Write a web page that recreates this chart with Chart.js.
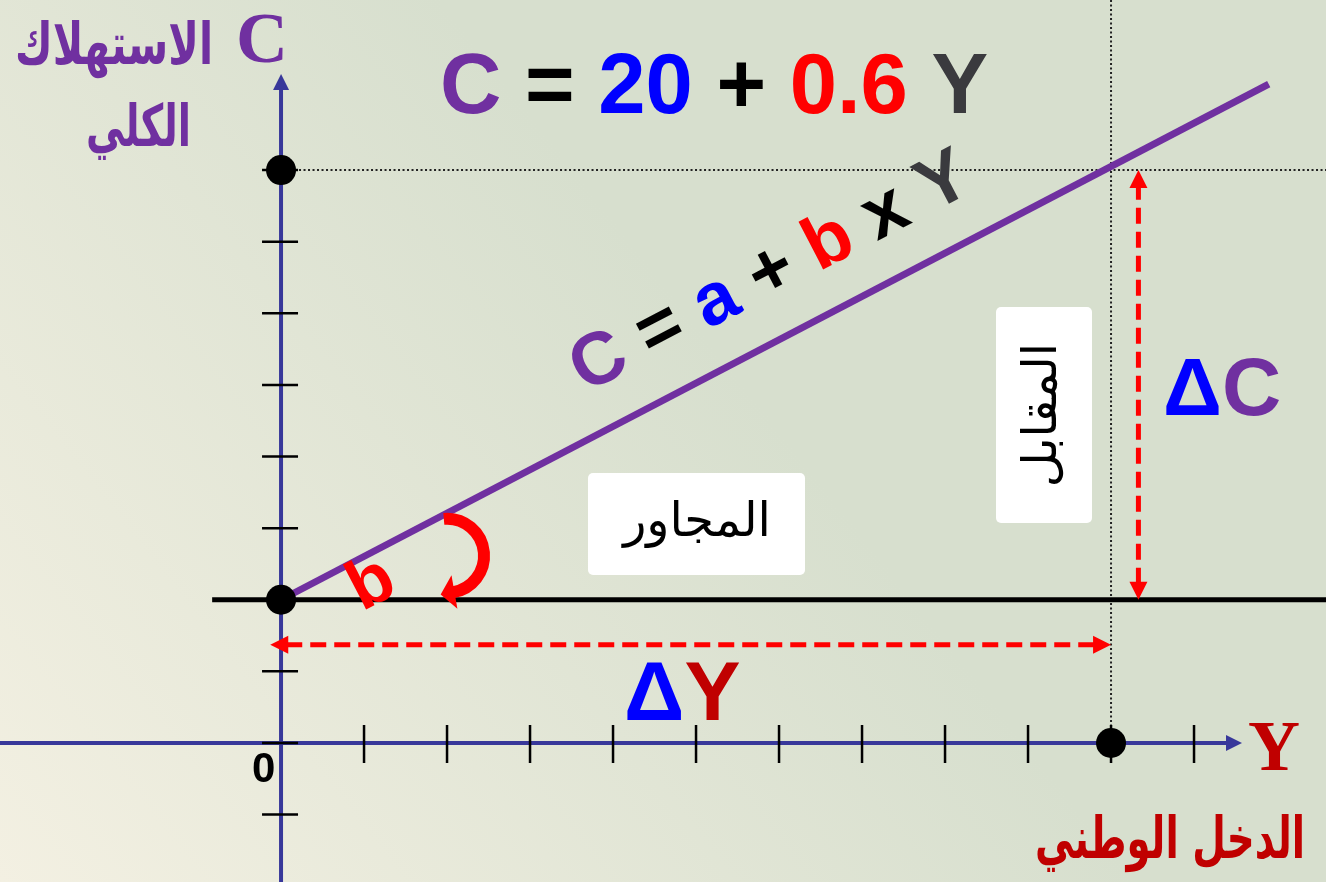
<!DOCTYPE html>
<html>
<head>
<meta charset="utf-8">
<script src="https://cdn.jsdelivr.net/npm/chart.js@4.4.0/dist/chart.umd.min.js"></script>
<style>
  html, body { margin: 0; padding: 0; background: #d8e0cf; }
  #wrap { width: 1326px; height: 882px; }
</style>
</head>
<body>
<div id="wrap"><canvas id="chart" width="1326" height="882"></canvas></div>
<script>
// consumption function C = a + b*Y  (a = 20, b = 0.6)
const lineIncome = [0, 119];
const lineConsumption = [20, 92];
const baseIncome = [-8.3, 126];
const baseConsumption = [20, 20];
const pointIncome = [0, 0, 100];
const pointConsumption = [20, 80, 0];
const incomeTicks = [10, 20, 30, 40, 50, 60, 70, 80, 90, 100, 110];
const consumptionTicks = [-10, 0, 10, 20, 30, 40, 50, 60, 70, 80];
const deltaIncome = [-1.3, 100];     // ΔY arrow, at C = 13.7
const deltaIncomeLevel = 13.7;
const deltaConsumption = [20, 80];   // ΔC arrow, at Y = 103.3
const deltaConsumptionLevel = 103.3;

const toPoints = (xs, ys) => xs.map((x, i) => ({ x: x, y: ys[i] }));

const SANS = '"Liberation Sans", Arial, sans-serif';
const SERIF = '"Liberation Serif", "Times New Roman", serif';
const ARABIC = '"DejaVu Sans", sans-serif';

function runs(ctx, parts, x, y, angle, font) {
  ctx.save();
  ctx.translate(x, y);
  ctx.rotate(angle);
  ctx.font = font;
  ctx.textAlign = 'left';
  ctx.textBaseline = 'alphabetic';
  let cx = 0;
  parts.forEach(([text, color]) => {
    ctx.fillStyle = color;
    ctx.fillText(text, cx, 0);
    cx += ctx.measureText(text).width;
  });
  ctx.restore();
}

// squeeze a label into a given width (left edge x)
function fitText(ctx, text, x, y, width, font, color) {
  ctx.save();
  ctx.font = font;
  ctx.fillStyle = color;
  ctx.textAlign = 'left';
  ctx.textBaseline = 'alphabetic';
  const w = ctx.measureText(text).width;
  ctx.translate(x, y);
  ctx.scale(width / w, 1);
  ctx.fillText(text, 0, 0);
  ctx.restore();
}

function head(ctx, x, y, ang, len, half, color) {
  ctx.save();
  ctx.translate(x, y);
  ctx.rotate(ang);
  ctx.fillStyle = color;
  ctx.beginPath();
  ctx.moveTo(0, 0);
  ctx.lineTo(-len, -half);
  ctx.lineTo(-len, half);
  ctx.closePath();
  ctx.fill();
  ctx.restore();
}

function roundBox(ctx, x, y, w, h, r) {
  ctx.fillStyle = '#ffffff';
  ctx.beginPath();
  ctx.roundRect(x, y, w, h, r);
  ctx.fill();
}

const backdrop = {
  id: 'backdrop',
  beforeDatasetsDraw(chart) {
    const ctx = chart.ctx;
    const xs = chart.scales.x, ys = chart.scales.y;
    const W = chart.width, H = chart.height;
    const g = ctx.createLinearGradient(0, H, 700, 330);
    g.addColorStop(0, '#f3f0e2');
    g.addColorStop(1, '#d7dfce');
    ctx.save();
    ctx.fillStyle = g;
    ctx.fillRect(0, 0, W, H);

    const ox = xs.getPixelForValue(0), oy = ys.getPixelForValue(0);

    // dotted guides
    ctx.strokeStyle = '#222';
    ctx.lineWidth = 2;
    ctx.setLineDash([2, 2.5]);
    const gx = xs.getPixelForValue(100), gy = ys.getPixelForValue(80);
    ctx.beginPath();
    ctx.moveTo(gx, 0); ctx.lineTo(gx, oy);
    ctx.moveTo(ox, gy); ctx.lineTo(W, gy);
    ctx.stroke();
    ctx.setLineDash([]);

    // axes
    const axis = '#38389a';
    ctx.strokeStyle = axis;
    ctx.lineWidth = 4;
    ctx.beginPath();
    ctx.moveTo(0, oy); ctx.lineTo(1228, oy);
    ctx.moveTo(ox, H); ctx.lineTo(ox, 88);
    ctx.stroke();
    head(ctx, 1242, oy, 0, 16, 8, axis);
    head(ctx, ox, 74, -Math.PI / 2, 16, 8, axis);

    // ticks
    ctx.strokeStyle = '#000';
    ctx.lineWidth = 2.5;
    ctx.beginPath();
    incomeTicks.forEach(v => {
      const x = xs.getPixelForValue(v);
      ctx.moveTo(x, oy - 18); ctx.lineTo(x, oy + 20);
    });
    consumptionTicks.forEach(v => {
      const y = ys.getPixelForValue(v);
      ctx.moveTo(ox - 19, y); ctx.lineTo(ox + 17, y);
    });
    ctx.stroke();
    ctx.restore();
  }
};

const overlay = {
  id: 'overlay',
  afterDatasetsDraw(chart) {
    const ctx = chart.ctx;
    const xs = chart.scales.x, ys = chart.scales.y;
    const red = '#ff0000';
    ctx.save();

    // ΔY and ΔC dashed arrows
    ctx.strokeStyle = red;
    ctx.lineWidth = 5;
    ctx.setLineDash([16, 8]);
    const hy = ys.getPixelForValue(deltaIncomeLevel);
    const hx1 = xs.getPixelForValue(deltaIncome[0]), hx2 = xs.getPixelForValue(deltaIncome[1]);
    const vx = xs.getPixelForValue(deltaConsumptionLevel);
    const vy1 = ys.getPixelForValue(deltaConsumption[0]), vy2 = ys.getPixelForValue(deltaConsumption[1]);
    ctx.beginPath();
    ctx.moveTo(hx1 + 16, hy); ctx.lineTo(hx2 - 16, hy);
    ctx.moveTo(vx, vy1 - 16); ctx.lineTo(vx, vy2 + 16);
    ctx.stroke();
    ctx.setLineDash([]);
    head(ctx, hx1, hy, Math.PI, 18, 9, red);
    head(ctx, hx2, hy, 0, 18, 9, red);
    head(ctx, vx, vy1, Math.PI / 2, 18, 9, red);
    head(ctx, vx, vy2, -Math.PI / 2, 18, 9, red);

    // slope angle of the consumption line
    const p1x = xs.getPixelForValue(lineIncome[0]), p1y = ys.getPixelForValue(lineConsumption[0]);
    const p2x = xs.getPixelForValue(lineIncome[1]), p2y = ys.getPixelForValue(lineConsumption[1]);
    const ang = Math.atan2(p2y - p1y, p2x - p1x);

    // curved arrow for b
    const cx = p1x + 166, cy = p1y - 44, r = 37;
    const a0 = -95 * Math.PI / 180, a1 = 80 * Math.PI / 180;
    ctx.strokeStyle = red;
    ctx.lineWidth = 12;
    ctx.beginPath();
    ctx.arc(cx, cy, r, a0, a1, false);
    ctx.stroke();
    head(ctx, cx + r * Math.cos(a1) - 13 * Math.sin(a1), cy + r * Math.sin(a1) + 13 * Math.cos(a1),
      a1 + Math.PI / 2, 14, 17, red);

    runs(ctx, [['b', red]], p1x + 81, p1y + 12, ang, 'bold 70px ' + SANS);

    // equation along the line
    const ax = xs.getPixelForValue(39);
    const ay = p1y + (ax - p1x) * Math.tan(ang);
    const d = 42;
    runs(ctx, [['C', '#7030a0'], [' = ', '#000'], ['a', '#0000ff'], [' + ', '#000'],
      ['b', red], [' x ', '#000'], ['Y', '#3a3a3e']],
      ax + Math.sin(ang) * d, ay - Math.cos(ang) * d, ang, 'bold 74px ' + SANS);

    // title
    runs(ctx, [['C', '#7030a0'], [' = ', '#000'], ['20', '#0000ff'], [' + ', '#000'],
      ['0.6', red], [' Y', '#3a3a3e']], 440, 113, 0, 'bold 85px ' + SANS);

    // deltas
    runs(ctx, [['Δ', '#0000ff'], ['C', '#7030a0']], 1163, 415, 0, 'bold 82px ' + SANS);
    runs(ctx, [['Δ', '#0000ff'], ['Y', '#c00000']], 624, 720, 0, 'bold 84px ' + SANS);

    // white label boxes
    roundBox(ctx, 588, 473, 217, 102, 5);
    roundBox(ctx, 996, 307, 96, 216, 5);
    ctx.fillStyle = '#000';
    ctx.font = '48px ' + ARABIC;
    ctx.textAlign = 'center';
    ctx.textBaseline = 'middle';
    ctx.fillText('المجاور', 697, 524);
    ctx.save();
    ctx.translate(1044, 415);
    ctx.rotate(-Math.PI / 2);
    ctx.fillText('المقابل', 0, 0);
    ctx.restore();

    // axis titles
    ctx.textBaseline = 'alphabetic';
    ctx.textAlign = 'left';
    ctx.font = 'bold 72px ' + SERIF;
    ctx.fillStyle = '#7030a0';
    ctx.fillText('C', 236, 62);
    ctx.fillStyle = '#c00000';
    ctx.fillText('Y', 1248, 770);

    fitText(ctx, 'الاستهلاك', 15, 64, 198, 'bold 58px ' + ARABIC, '#7030a0');
    fitText(ctx, 'الكلي', 86, 146, 105, 'bold 58px ' + ARABIC, '#7030a0');
    fitText(ctx, 'الدخل الوطني', 1035, 858, 270, 'bold 58px ' + ARABIC, '#c00000');

    ctx.fillStyle = '#000';
    ctx.textAlign = 'left';
    ctx.font = 'bold 42px ' + SANS;
    ctx.fillText('0', 252, 782);
    ctx.restore();
  }
};

new Chart(document.getElementById('chart').getContext('2d'), {
  type: 'scatter',
  data: {
    datasets: [
      {
        label: 'points',
        data: toPoints(pointIncome, pointConsumption),
        pointRadius: 15,
        pointBackgroundColor: '#000',
        pointBorderWidth: 0,
        showLine: false,
        order: 0
      },
      {
        label: 'C = a + bY',
        data: toPoints(lineIncome, lineConsumption),
        showLine: true,
        borderColor: '#7030a0',
        borderWidth: 7,
        pointRadius: 0,
        order: 1
      },
      {
        label: 'base',
        data: toPoints(baseIncome, baseConsumption),
        showLine: true,
        borderColor: '#000',
        borderWidth: 5,
        pointRadius: 0,
        order: 2
      }
    ]
  },
  options: {
    responsive: false,
    animation: false,
    events: [],
    layout: { padding: 0, autoPadding: false },
    clip: false,
    scales: {
      x: { type: 'linear', min: -33.86, max: 125.9, display: false },
      y: { type: 'linear', min: -19.41, max: 103.74, display: false }
    },
    plugins: {
      legend: { display: false },
      tooltip: { enabled: false }
    }
  },
  plugins: [backdrop, overlay]
});
</script>
</body>
</html>
